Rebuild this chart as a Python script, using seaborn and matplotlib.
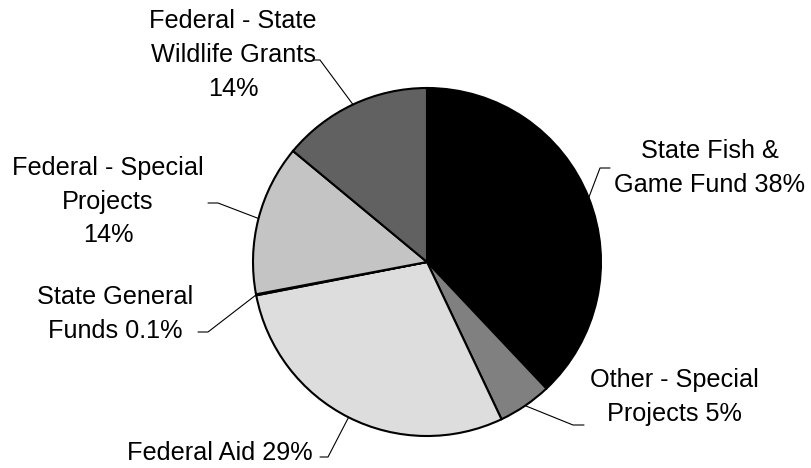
import numpy as np
import matplotlib.pyplot as plt
import seaborn as sns

# budget shares, clockwise from 12 o'clock
labels = ["State Fish &\nGame Fund 38%", "Other - Special\nProjects 5%", "Federal Aid 29%",
          "State General\nFunds 0.1%", "Federal - Special\nProjects\n14%",
          "Federal - State\nWildlife Grants\n14%"]
shares = [38, 5, 29, 0.1, 14, 14]
colors = ["#000000", "#808080", "#dddddd", "#000000", "#c4c4c4", "#616161"]

sns.set_theme(style="white")
plt.rcParams['font.family'] = ['Liberation Sans', 'DejaVu Sans']

W, H = 811, 468
cx, cy, r = 427, 262, 174  # pie centre / radius in pixels (y down)

fig = plt.figure(figsize=(8.11, 4.68), dpi=100)
ax = fig.add_axes([0, 0, 1, 1])
ax.pie(shares, colors=colors, startangle=90, counterclock=False,
       center=(cx, H - cy), radius=r,
       wedgeprops=dict(edgecolor='black', linewidth=1.5))
ax.set_xlim(0, W)
ax.set_ylim(0, H)
ax.set_aspect('equal')
ax.axis('off')

# label layout: text centre, elbow, end of leader (pixels, y down)
text_pos = [(710, 168), (674, 397), (220, 453), (115, 314), (108, 202), (233, 55)]
elbows = [(600, 168), (573, 425), (328, 457), (208, 332), (218, 203), (320, 60)]
ends = [(610, 168), (584, 425), (320, 457), (198, 332), (208, 203), (313, 60)]

total = sum(shares)
cum = np.cumsum([0] + shares)
for i, lab in enumerate(labels):
    mid = (cum[i] + shares[i] / 2) / total * 2 * np.pi
    ex, ey = cx + r * np.sin(mid), cy - r * np.cos(mid)
    xs = [ex, elbows[i][0], ends[i][0]]
    ys = [H - ey, H - elbows[i][1], H - ends[i][1]]
    ax.plot(xs, ys, color='black', lw=0.8)
    ax.text(text_pos[i][0], H - text_pos[i][1], lab, ha='center', va='center',
            fontsize=18.2, linespacing=1.5, color='black')

fig.savefig('out.png', dpi=100)
